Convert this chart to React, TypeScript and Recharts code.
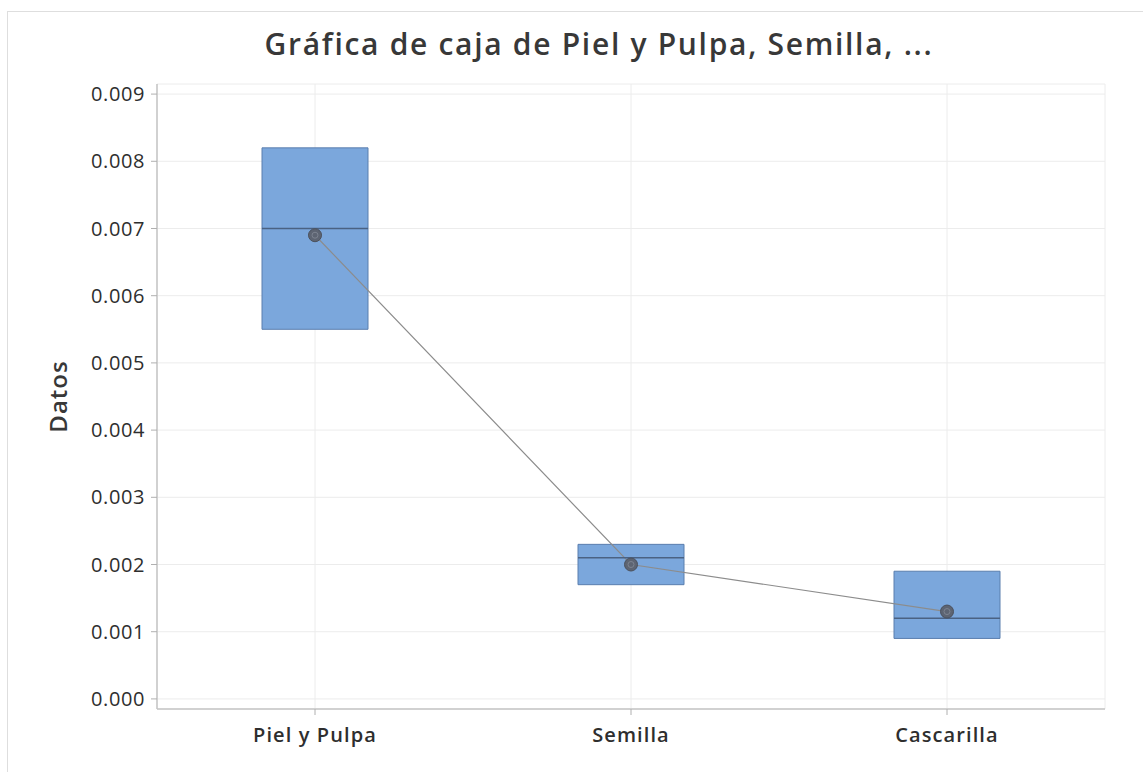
import React from "react";
import {
  Bar,
  CartesianGrid,
  ComposedChart,
  Line,
  Scatter,
  XAxis,
  YAxis,
} from "recharts";

const categories = ["Piel y Pulpa", "Semilla", "Cascarilla"];
const q1 = [0.0055, 0.0017, 0.0009];
const q3 = [0.0082, 0.0023, 0.0019];
const median = [0.007, 0.0021, 0.0012];
const mean = [0.0069, 0.002, 0.0013];
const yTicks = [0, 0.001, 0.002, 0.003, 0.004, 0.005, 0.006, 0.007, 0.008, 0.009];

const data = categories.map((name, i) => ({
  name,
  box: [q1[i], q3[i]],
  median: median[i],
  mean: mean[i],
}));

const BOX_W = 106;
const font = "'Open Sans', 'Noto Sans', sans-serif";
const textColor = "#2e2e2e";

function MedianMark(props: any) {
  const { cx, cy } = props;
  return (
    <line x1={cx - BOX_W / 2} x2={cx + BOX_W / 2} y1={cy} y2={cy} stroke="#4a6283" strokeWidth={1.5} />
  );
}

function MeanDot(props: any) {
  const { cx, cy } = props;
  return (
    <g>
      <circle cx={cx} cy={cy} r={6.5} fill="#5d6472" stroke="#4b515d" strokeWidth={1} />
      <circle cx={cx} cy={cy} r={3} fill="none" stroke="#7c8390" strokeWidth={1} />
    </g>
  );
}

export default function App() {
  return (
    <div style={{ position: "absolute", left: 0, top: 0, width: 1143, height: 772, background: "#fff", overflow: "hidden", fontFamily: font }}>
      <div style={{ position: "absolute", left: 7, top: 11, width: 1200, height: 800, border: "1.5px solid #dedede" }} />
      <div
        style={{
          position: "absolute",
          left: 599,
          top: 27,
          transform: "translateX(-50%)",
          whiteSpace: "nowrap",
          fontSize: 30,
          fontWeight: 600,
          lineHeight: "34px",
          color: "#383838",
          letterSpacing: 1.7,
        }}
      >
        Gráfica de caja de Piel y Pulpa, Semilla, ...
      </div>
      <div style={{ position: "absolute", left: 0, top: 0 }}>
        <ComposedChart
          width={1143}
          height={772}
          data={data}
          margin={{ top: 84, right: 38, bottom: 0, left: 0 }}
        >
          <CartesianGrid stroke="#ececec" strokeWidth={1} />
          <XAxis
            dataKey="name"
            type="category"
            height={63}
            axisLine={{ stroke: "#c4c4c4", strokeWidth: 1.5 }}
            tickLine={{ stroke: "#b0b0b0" }}
            tickSize={6}
            tickMargin={13}
            tick={{ fill: textColor, fontSize: 20, fontWeight: 600, fontFamily: font, letterSpacing: 1.1 }}
            interval={0}
          />
          <XAxis xAxisId="top" orientation="top" dataKey="name" height={0} tick={false} tickLine={false} axisLine={{ stroke: "#c4c4c4", strokeWidth: 1.5 }} />
          <YAxis
            type="number"
            width={157}
            domain={[-0.00015, 0.00915]}
            ticks={yTicks}
            allowDataOverflow
            tickFormatter={(v: number) => v.toFixed(3)}
            axisLine={{ stroke: "#c4c4c4", strokeWidth: 1.5 }}
            tickLine={{ stroke: "#b0b0b0" }}
            tickSize={6}
            tickMargin={6}
            tick={{ fill: textColor, fontSize: 20, fontWeight: 500, fontFamily: font, letterSpacing: 0.6 }}
            label={{
              value: "Datos",
              angle: -90,
              position: "insideLeft",
              offset: 58,
              style: { textAnchor: "middle", fill: "#383838", fontSize: 24, fontFamily: font, fontWeight: 600, letterSpacing: 1 },
            }}
          />
          <YAxis yAxisId="right" orientation="right" width={0} tick={false} tickLine={false} axisLine={{ stroke: "#c4c4c4", strokeWidth: 1.5 }} />
          <Bar
            dataKey="box"
            barSize={BOX_W}
            fill="#7ba7dc"
            stroke="#5a7eae"
            strokeWidth={1}
            isAnimationActive={false}
          />
          <Scatter dataKey="median" shape={<MedianMark />} isAnimationActive={false} />
          <Line
            dataKey="mean"
            type="linear"
            stroke="#8c8c8c"
            strokeWidth={1.2}
            dot={<MeanDot />}
            activeDot={false}
            isAnimationActive={false}
          />
        </ComposedChart>
      </div>
    </div>
  );
}
